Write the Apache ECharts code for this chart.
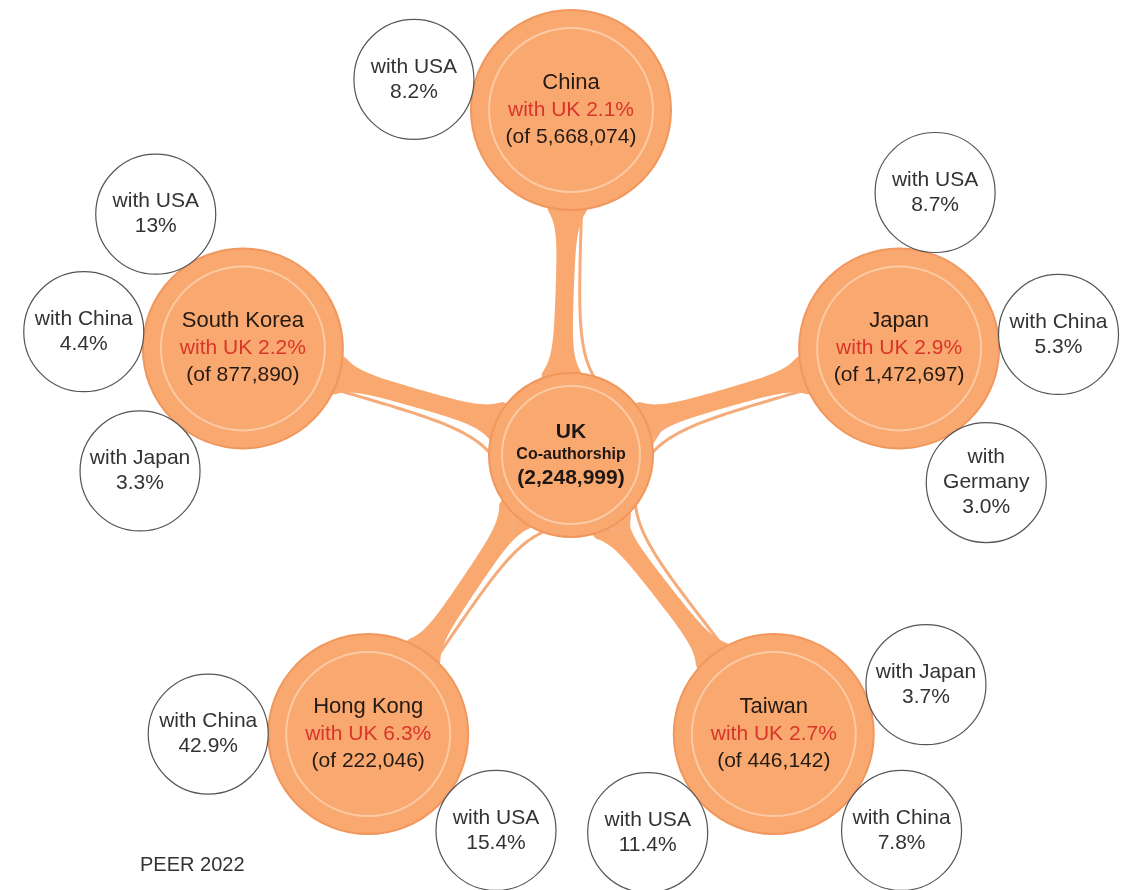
<!DOCTYPE html>
<html lang="en">
<head>
<meta charset="UTF-8">
<title>UK co-authorship</title>
<script src="https://cdn.jsdelivr.net/npm/echarts@6/dist/echarts.min.js"></script>
<style>
    html, body { margin: 0; padding: 0; background: #fff; }
    #chart { width: 1122px; height: 890px; }
</style>
</head>
<body>
<div id="chart"></div>
<script>
// hub
var hubName = 'UK';
var hubTotal = '2,248,999';

// countries round the hub
var countries = ['China', 'Japan', 'Taiwan', 'Hong Kong', 'South Korea'];
var withUK = ['2.1%', '2.9%', '2.7%', '6.3%', '2.2%'];
var totals = ['5,668,074', '1,472,697', '446,142', '222,046', '877,890'];
var countryAngle = [-90, -18, 54, 126, 198];
var strandSide = [1, 1, -1, -1, -1];

// partner circles round each country
var satParent = [0, 1, 1, 1, 2, 2, 2, 3, 3, 4, 4, 4];
var satPartner = ['USA', 'USA', 'China', 'Germany', 'Japan', 'USA', 'China', 'China', 'USA', 'USA', 'China', 'Japan'];
var satShare = ['8.2%', '8.7%', '5.3%', '3.0%', '3.7%', '11.4%', '7.8%', '42.9%', '15.4%', '13%', '4.4%', '3.3%'];
var satAngle = [191, 283, 355, 57, 342, 142, 37, 180, 37, 237, 186, 130];

var hubPos = [571, 455];
var ringR = 345;
var satR = 160;
var hubSize = 164;
var countrySize = 200;

var orange = '#f9a86f';
var edge = '#f1975d';
var font = '"Liberation Sans", Arial, sans-serif';

function polar(origin, deg, r) {
    var a = deg * Math.PI / 180;
    return [origin[0] + r * Math.cos(a), origin[1] + r * Math.sin(a)];
}

var nodes = [];
var ringData = [];
var ribbons = [];

nodes.push({
    name: hubName,
    value: hubPos,
    symbolSize: hubSize,
    itemStyle: { color: orange, borderColor: edge, borderWidth: 2 },
    label: {
        formatter: '{a|' + hubName + '}\n{b|Co-authorship}\n{c|(' + hubTotal + ')}',
        rich: {
            a: { fontFamily: font, fontSize: 21, fontWeight: 'bold', color: '#1e1612', lineHeight: 24 },
            b: { fontFamily: font, fontSize: 16, fontWeight: 'bold', color: '#1e1612', lineHeight: 22 },
            c: { fontFamily: font, fontSize: 21, fontWeight: 'bold', color: '#1e1612', lineHeight: 24 }
        }
    }
});
ringData.push({ value: hubPos, symbolSize: 138 });

var countryPos = [];
for (var i = 0; i < countries.length; i++) {
    var p = polar(hubPos, countryAngle[i], ringR);
    countryPos.push(p);
    nodes.push({
        name: countries[i],
        value: p,
        symbolSize: countrySize,
        itemStyle: { color: orange, borderColor: edge, borderWidth: 2 },
        label: {
            formatter: '{n|' + countries[i] + '}\n{r|with UK ' + withUK[i] + '}\n{o|(of ' + totals[i] + ')}',
            rich: {
                n: { fontFamily: font, fontSize: 22, color: '#241a14', lineHeight: 27 },
                r: { fontFamily: font, fontSize: 21, color: '#d9352a', lineHeight: 27 },
                o: { fontFamily: font, fontSize: 21, color: '#241a14', lineHeight: 27 }
            }
        }
    });
    ringData.push({ value: p, symbolSize: 164 });
    ribbons.push([hubPos[0], hubPos[1], p[0], p[1], strandSide[i]]);
}

for (var j = 0; j < satPartner.length; j++) {
    var sp = polar(countryPos[satParent[j]], satAngle[j], satR);
    var who = satPartner[j].length > 6 ? 'with\n' + satPartner[j] : 'with ' + satPartner[j];
    nodes.push({
        name: 'sat' + j,
        value: sp,
        symbolSize: 120,
        itemStyle: { color: '#ffffff', borderColor: '#555555', borderWidth: 1.2 },
        label: {
            formatter: who + '\n' + satShare[j],
            fontFamily: font,
            fontSize: 21,
            lineHeight: 25,
            color: '#333333'
        }
    });
}

// tapered band from hub to country, with a thin strand beside it
function renderRibbon(params, api) {
    var a = api.coord([api.value(0), api.value(1)]);
    var b = api.coord([api.value(2), api.value(3)]);
    var side = api.value(4);
    var dx = b[0] - a[0], dy = b[1] - a[1];
    var L = Math.sqrt(dx * dx + dy * dy);
    var ux = dx / L, uy = dy / L, nx = -uy, ny = ux;
    var s0 = hubSize / 2, s1 = L - countrySize / 2;
    var left = [], right = [], strand = [];
    var steps = 80;
    var from = 30, to = L - 40;
    var base = 9;
    for (var k = 0; k <= steps; k++) {
        var s = from + (to - from) * k / steps;
        var t = s / L;
        var sc = Math.min(Math.max(s, s0), s1);
        var off = -side * 12 * (1 - t);
        var hw = base + 11 * Math.exp(-(sc - s0) / 15) + 11 * Math.exp(-(s1 - sc) / 15);
        var cx = a[0] + ux * s + nx * off;
        var cy = a[1] + uy * s + ny * off;
        left.push([cx + nx * hw, cy + ny * hw]);
        right.push([cx - nx * hw, cy - ny * hw]);
        var so = side * (base + 5 + 16 * Math.exp(-(s - s0) / 30));
        strand.push([cx + nx * so, cy + ny * so]);
    }
    return {
        type: 'group',
        children: [
            { type: 'polyline', shape: { points: strand }, style: { stroke: '#f5ab7a', lineWidth: 3, fill: null } },
            { type: 'polygon', shape: { points: left.concat(right.reverse()) }, style: { fill: orange } }
        ]
    };
}

var chart = echarts.init(document.getElementById('chart'));
var option = {
    animation: false,
    backgroundColor: '#ffffff',
    title: {
        text: 'PEER 2022',
        left: 140,
        top: 855,
        padding: 0,
        textStyle: { fontFamily: font, fontSize: 20, fontWeight: 'normal', color: '#333333' }
    },
    grid: { left: 0, right: 0, top: 0, bottom: 0 },
    xAxis: { type: 'value', min: 0, max: 1122, show: false },
    yAxis: { type: 'value', min: 0, max: 890, inverse: true, show: false },
    series: [
        {
            type: 'custom',
            coordinateSystem: 'cartesian2d',
            renderItem: renderRibbon,
            data: ribbons,
            encode: { x: [0, 2], y: [1, 3] },
            silent: true,
            z: 1
        },
        {
            type: 'graph',
            coordinateSystem: 'cartesian2d',
            symbol: 'circle',
            data: nodes,
            links: [],
            label: { show: true, position: 'inside' },
            emphasis: { disabled: true },
            z: 2
        },
        {
            type: 'scatter',
            symbol: 'circle',
            silent: true,
            data: ringData,
            itemStyle: { color: 'rgba(0,0,0,0)', borderColor: '#fcd2b3', borderWidth: 2 },
            z: 3
        }
    ]
};
chart.setOption(option);
</script>
</body>
</html>
